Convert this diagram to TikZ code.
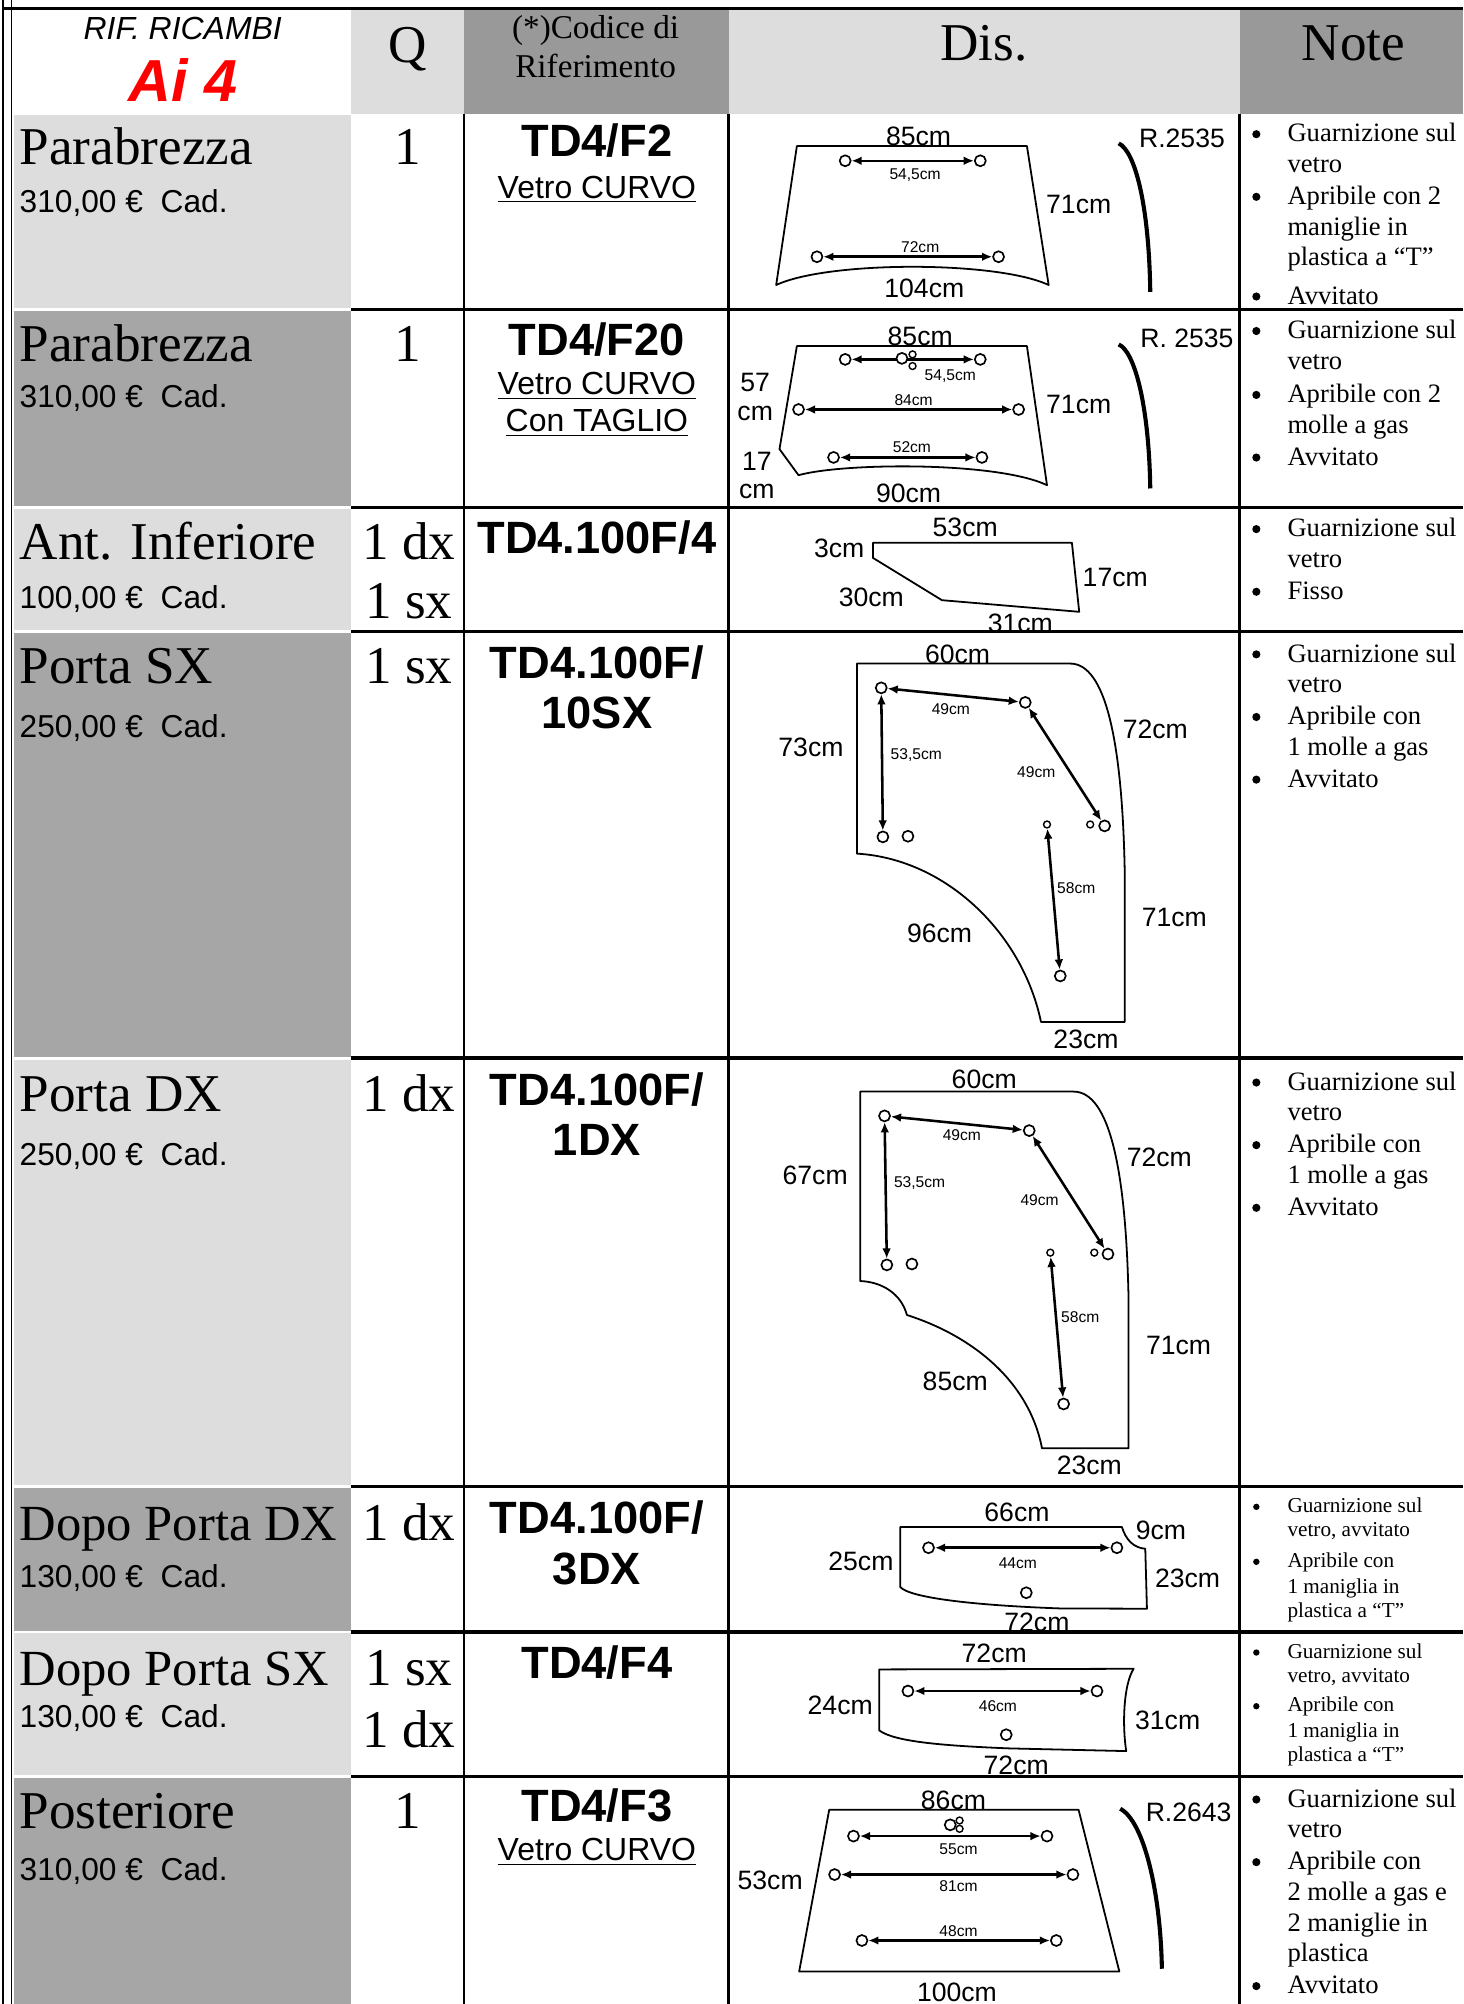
\documentclass[tikz,border=0pt]{standalone}
\usepackage{fontspec}
\setmainfont{Liberation Serif}
\setsansfont{Liberation Sans}
\usetikzlibrary{arrows.meta}
\definecolor{lightcell}{HTML}{DDDDDD}
\definecolor{darkcell}{HTML}{A6A6A6}
\definecolor{headdark}{HTML}{999999}

\begin{document}
\begin{tikzpicture}[x=0.5pt, y=-0.5pt,
    bigtext/.style={font=\fontsize{20.8}{24}\selectfont, inner sep=0pt},
    longtext/.style={font=\fontsize{19.8}{23}\selectfont, inner sep=0pt},
    price/.style={font=\sffamily\fontsize{12.4}{14}\selectfont, inner sep=0pt, anchor=base west},
    codetext/.style={font=\sffamily\bfseries\fontsize{17.7}{20}\selectfont, inner sep=0pt, anchor=base},
    subtext/.style={font=\sffamily\fontsize{12.5}{14}\selectfont, inner sep=0pt, anchor=base},
    dimtext/.style={font=\sffamily\fontsize{10.4}{12}\selectfont, inner sep=0pt},
    dimsmall/.style={font=\sffamily\fontsize{6.1}{7}\selectfont, inner sep=0pt},
    noteline/.style={font=\fontsize{10.4}{12}\selectfont, inner sep=0pt, anchor=base west},
    notesmall/.style={font=\fontsize{8.3}{10}\selectfont, inner sep=0pt, anchor=base west},
    notedot/.style={circle, fill, inner sep=0pt, minimum size=3.2pt},
    notedotsmall/.style={circle, fill, inner sep=0pt, minimum size=2.5pt},
    hole/.style={circle, draw, fill=white, line width=0.65pt, inner sep=0pt, minimum size=4.3pt},
    smallhole/.style={circle, draw, fill=white, line width=0.55pt, inner sep=0pt, minimum size=2.7pt},
    glass/.style={line width=0.7pt, line join=round},
    dimarrow/.style={<->, >={Latex[length=4pt,width=3.4pt]}, line width=1pt},
    curvemark/.style={line width=1.6pt},
    cellline/.style={line width=1pt},
    rowline/.style={line width=1.4pt}]
\useasboundingbox (0,0) rectangle (1145,1568);

\fill[lightcell] (275,8) rectangle (363,89);
\fill[headdark] (363,8) rectangle (570,89);
\fill[lightcell] (570,8) rectangle (970,89);
\fill[headdark] (970,8) rectangle (1145,89);
\fill[lightcell] (11,90) rectangle (275,241);
\fill[darkcell] (11,243) rectangle (275,396);
\fill[lightcell] (11,398) rectangle (275,493);
\fill[darkcell] (11,495) rectangle (275,827);
\fill[lightcell] (11,829) rectangle (275,1162);
\fill[darkcell] (11,1164) rectangle (275,1276);
\fill[lightcell] (11,1278) rectangle (275,1389);
\fill[darkcell] (11,1391) rectangle (275,1568);

\node[font=\sffamily\itshape\fontsize{12.5}{14}\selectfont, inner sep=0pt, anchor=base] (rif) at (143,31) {RIF. RICAMBI};
\node[font=\sffamily\bfseries\itshape\fontsize{23.2}{26}\selectfont, text=red, inner sep=0pt, anchor=base] (model) at (143,79.5) {Ai 4};
\node[bigtext, anchor=base] (qhead) at (319,49) {Q};
\node[font=\fontsize{13}{15}\selectfont, inner sep=0pt, anchor=base] (codhead) at (466,30.5) {(*)Codice di};
\node[font=\fontsize{13}{15}\selectfont, inner sep=0pt, anchor=base] (rifhead) at (466,60.5) {Riferimento};
\node[bigtext, anchor=base] (dishead) at (770,47) {Dis.};
\node[bigtext, anchor=base] (notehead) at (1059,47) {Note};

\node[bigtext, anchor=base west] (part1) at (15,129) {Parabrezza};
\node[price] (cost1) at (15,166) {310,00 €~~Cad.};
\node[bigtext, anchor=base west] (part2) at (15,283) {Parabrezza};
\node[price] (cost2) at (15,319) {310,00 €~~Cad.};
\node[bigtext, anchor=base west] (part3) at (15,438) {Ant. Inferiore};
\node[price] (cost3) at (15,476) {100,00 €~~Cad.};
\node[bigtext, anchor=base west] (part4) at (15,535) {Porta SX};
\node[price] (cost4) at (15,577) {250,00 €~~Cad.};
\node[bigtext, anchor=base west] (part5) at (15,870) {Porta DX};
\node[price] (cost5) at (15,912) {250,00 €~~Cad.};
\node[longtext, anchor=base west] (part6) at (15,1205) {Dopo Porta DX};
\node[price] (cost6) at (15,1242) {130,00 €~~Cad.};
\node[longtext, anchor=base west] (part7) at (15,1319) {Dopo Porta SX};
\node[price] (cost7) at (15,1352) {130,00 €~~Cad.};
\node[bigtext, anchor=base west] (part8) at (15,1431) {Posteriore};
\node[price] (cost8) at (15,1471) {310,00 €~~Cad.};

\node[bigtext, anchor=base] (qty1) at (319,129) {1};
\node[bigtext, anchor=base] (qty2) at (319,283) {1};
\node[bigtext, anchor=base] (qty3) at (320,438) {1 dx};
\node[bigtext, anchor=base] (qty3b) at (320,484) {1 sx};
\node[bigtext, anchor=base] (qty4) at (320,535) {1 sx};
\node[bigtext, anchor=base] (qty5) at (320,870) {1 dx};
\node[bigtext, anchor=base] (qty6) at (320,1205) {1 dx};
\node[bigtext, anchor=base] (qty7) at (320,1319) {1 sx};
\node[bigtext, anchor=base] (qty7b) at (320,1367) {1 dx};
\node[bigtext, anchor=base] (qty8) at (319,1431) {1};

\node[codetext] (code1) at (467,122.6) {TD4/F2};
\node[subtext] (kind1) at (467,155) {\underline{Vetro CURVO}};
\node[codetext] (code2) at (467,278) {TD4/F20};
\node[subtext] (kind2) at (467,309) {\underline{Vetro CURVO}};
\node[subtext] (kind2b) at (467,338) {\underline{Con TAGLIO}};
\node[codetext] (code3) at (467,433) {TD4.100F/4};
\node[codetext] (code4) at (467,531) {TD4.100F/};
\node[codetext] (code4b) at (467,570) {10SX};
\node[codetext] (code5) at (467,865) {TD4.100F/};
\node[codetext] (code5b) at (467,904) {1DX};
\node[codetext] (code6) at (467,1200) {TD4.100F/};
\node[codetext] (code6b) at (467,1240) {3DX};
\node[codetext] (code7) at (467,1313) {TD4/F4};
\node[codetext] (code8) at (467,1425) {TD4/F3};
\node[subtext] (kind8) at (467,1456) {\underline{Vetro CURVO}};

\draw[glass] (623.5,114.3) -- (803.5,114.3) -- (820.5,223)
  .. controls (780,204) and (648,204) .. (607.3,223) -- cycle;
\node[hole] (h1a) at (661.3,125.8) {};
\node[hole] (h1b) at (767,125.8) {};
\node[hole] (h1c) at (639.2,200.9) {};
\node[hole] (h1d) at (781.3,200.9) {};
\draw[dimarrow] (h1a) -- (h1b);
\draw[dimarrow] (h1c) -- (h1d);
\node[dimsmall] (m1a) at (716,137) {54,5cm};
\node[dimsmall] (m1b) at (720,193) {72cm};
\node[dimtext] (s1t) at (718.7,107) {85cm};
\node[dimtext] (s1r) at (844,159.7) {71cm};
\node[dimtext] (s1b) at (723.2,225.6) {104cm};
\node[dimtext] (rad1) at (924.8,108.3) {R.2535};
\draw[curvemark] (875.3,112.2) .. controls (888,118) and (899,160) .. (900,228.3);

\draw[glass] (623.5,270.8) -- (803.5,270.8) -- (819.2,379.6)
  .. controls (780,361) and (660,362) .. (624.8,371.8) -- (609.9,351.4) -- cycle;
\node[hole] (h2a) at (661.3,281.2) {};
\node[hole] (h2b) at (767,281.2) {};
\node[hole] (h2c) at (624.8,320.4) {};
\node[hole] (h2d) at (797,320.4) {};
\node[hole] (h2e) at (652.2,357.9) {};
\node[hole] (h2f) at (768.3,357.9) {};
\draw[dimarrow] (h2a) -- (h2b);
\draw[dimarrow] (h2c) -- (h2d);
\draw[dimarrow] (h2e) -- (h2f);
\node[hole] (h2m) at (705.7,280.4) {};
\node[smallhole] (h2s) at (714,277.3) {};
\node[smallhole] (h2t) at (714,286.4) {};
\node[dimsmall] (m2a) at (743.5,294.3) {54,5cm};
\node[dimsmall] (m2b) at (714.8,313) {84cm};
\node[dimsmall] (m2c) at (713.5,349.6) {52cm};
\node[dimtext] (s2t) at (720,263.5) {85cm};
\node[dimtext] (s2l) at (590.9,299.2) {57};
\node[dimtext] (s2lb) at (590.9,323.5) {cm};
\node[dimtext] (s2c) at (592.2,361.3) {17};
\node[dimtext] (s2cb) at (592.2,384.8) {cm};
\node[dimtext] (s2b) at (710.9,386.1) {90cm};
\node[dimtext] (s2r) at (844,316.4) {71cm};
\node[dimtext] (rad2) at (928.7,264.8) {R. 2535};
\draw[curvemark] (875.3,269.5) .. controls (888,275) and (899,318) .. (900,382.2);

\draw[glass] (683,424.7) -- (838.7,424.7) -- (844.4,478.7) -- (737,469.6) -- (683,436.5) -- cycle;
\node[dimtext] (s3t) at (755.2,413) {53cm};
\node[dimtext] (s3l) at (656.6,429.1) {3cm};
\node[dimtext] (s3r) at (872.6,452.1) {17cm};
\node[dimtext] (s3d) at (681.7,467) {30cm};
\node[dimtext] (s3b) at (798.3,487.8) {31cm};

\draw[glass] (670.5,519.2) -- (837.4,519.2) .. controls (865,519.2) and (878,580) .. (880,680.9)
  -- (880,799.6) -- (814.5,799.6) .. controls (800,730) and (740,672) .. (670.5,667.9) -- cycle;
\node[hole] (h4a) at (689.5,538.2) {};
\node[hole] (h4b) at (802.2,549.6) {};
\node[hole] (h4c) at (690.8,654.8) {};
\node[hole] (h4d) at (710.4,654.3) {};
\node[hole] (h4e) at (864.3,646.2) {};
\node[smallhole] (h4s) at (853,645.1) {};
\node[smallhole] (h4f) at (819.2,645.1) {};
\node[hole] (h4g) at (829.6,763.6) {};
\draw[dimarrow] (h4a) -- (h4b);
\draw[dimarrow] (h4a) -- (h4c);
\draw[dimarrow] (h4b) -- (h4e);
\draw[dimarrow] (h4f) -- (h4g);
\node[dimsmall] (m4a) at (744,554.9) {49cm};
\node[dimsmall] (m4b) at (716.9,590.9) {53,5cm};
\node[dimsmall] (m4c) at (810.8,603.9) {49cm};
\node[dimsmall] (m4d) at (842.1,695.2) {58cm};
\node[dimtext] (s4t) at (749.2,511.8) {60cm};
\node[dimtext] (s4l) at (634.5,584.9) {73cm};
\node[dimtext] (s4r) at (904,570.8) {72cm};
\node[dimtext] (s4rb) at (918.8,717.9) {71cm};
\node[dimtext] (s4c) at (735.1,730.4) {96cm};
\node[dimtext] (s4b) at (849.7,813.4) {23cm};

\draw[glass] (673,854.1) -- (840,854.1) .. controls (868,854.1) and (881,915) .. (883,1015.8)
  -- (883,1133.2) -- (815.3,1133.2) .. controls (805,1080) and (760,1045) .. (709.6,1028.9)
  .. controls (705,1012) and (690,1003) .. (673,1002.3) -- cycle;
\node[hole] (h5a) at (692.1,873.1) {};
\node[hole] (h5b) at (805.3,884.6) {};
\node[hole] (h5c) at (693.9,989.7) {};
\node[hole] (h5d) at (713.5,989) {};
\node[hole] (h5e) at (866.9,981.2) {};
\node[smallhole] (h5s) at (856.2,980.1) {};
\node[smallhole] (h5f) at (821.8,980.1) {};
\node[hole] (h5g) at (832.2,1098.5) {};
\draw[dimarrow] (h5a) -- (h5b);
\draw[dimarrow] (h5a) -- (h5c);
\draw[dimarrow] (h5b) -- (h5e);
\draw[dimarrow] (h5f) -- (h5g);
\node[dimsmall] (m5a) at (752.6,888) {49cm};
\node[dimsmall] (m5b) at (719.5,925.8) {53,5cm};
\node[dimsmall] (m5c) at (813.4,938.9) {49cm};
\node[dimsmall] (m5d) at (845.2,1030.2) {58cm};
\node[dimtext] (s5t) at (770.1,844.2) {60cm};
\node[dimtext] (s5l) at (637.8,919.8) {67cm};
\node[dimtext] (s5r) at (907.1,905.7) {72cm};
\node[dimtext] (s5rb) at (922.2,1052.9) {71cm};
\node[dimtext] (s5c) at (747.4,1080.5) {85cm};
\node[dimtext] (s5b) at (852.3,1146.3) {23cm};

\draw[glass] (704.4,1194.8) -- (877.8,1194.8) .. controls (881,1205) and (887,1211) .. (896.1,1211.8)
  -- (897.4,1258.7) -- (830,1258.5) .. controls (760,1256) and (712,1250) .. (704.4,1241.8) -- cycle;
\node[hole] (h6a) at (726.5,1211) {};
\node[hole] (h6b) at (873.9,1211) {};
\node[hole] (h6c) at (803,1246.2) {};
\draw[dimarrow] (h6a) -- (h6b);
\node[dimsmall] (m6a) at (796.4,1223) {44cm};
\node[dimtext] (s6t) at (795.7,1183) {66cm};
\node[dimtext] (s6n) at (908.4,1197.4) {9cm};
\node[dimtext] (s6l) at (673.6,1221.7) {25cm};
\node[dimtext] (s6r) at (929.2,1234.7) {23cm};
\node[dimtext] (s6b) at (811.3,1269.2) {72cm};

\draw[glass] (687.9,1306.2) -- (887,1305.7) .. controls (879,1318) and (878,1350) .. (881.2,1370.1)
  -- (790,1368) .. controls (740,1366) and (700,1363) .. (687.9,1353.9) -- cycle;
\node[hole] (h7a) at (710.4,1323.1) {};
\node[hole] (h7b) at (858.3,1323.1) {};
\node[hole] (h7c) at (787.3,1357.3) {};
\draw[dimarrow] (h7a) -- (h7b);
\node[dimsmall] (m7a) at (780.8,1335.1) {46cm};
\node[dimtext] (s7t) at (777.9,1293.4) {72cm};
\node[dimtext] (s7l) at (657.4,1334.4) {24cm};
\node[dimtext] (s7r) at (913.6,1346.1) {31cm};
\node[dimtext] (s7b) at (795.1,1381.3) {72cm};

\draw[glass] (648.8,1416) -- (843.9,1416) -- (875.8,1542.5) -- (625.3,1542.5) -- cycle;
\node[hole] (h8a) at (667.8,1436.6) {};
\node[hole] (h8b) at (819.2,1436.6) {};
\node[hole] (h8c) at (653,1466.7) {};
\node[hole] (h8d) at (839.5,1466.7) {};
\node[hole] (h8e) at (674.4,1518.3) {};
\node[hole] (h8f) at (826.5,1518.3) {};
\draw[dimarrow] (h8a) -- (h8b);
\draw[dimarrow] (h8c) -- (h8d);
\draw[dimarrow] (h8e) -- (h8f);
\node[hole] (h8m) at (743.5,1427.8) {};
\node[smallhole] (h8s) at (750.8,1424.4) {};
\node[smallhole] (h8t) at (750.8,1430.9) {};
\node[dimsmall] (m8a) at (750,1446.5) {55cm};
\node[dimsmall] (m8b) at (750,1476) {81cm};
\node[dimsmall] (m8c) at (750,1511.2) {48cm};
\node[dimtext] (s8t) at (746,1408.7) {86cm};
\node[dimtext] (s8l) at (602.6,1471.3) {53cm};
\node[dimtext] (s8b) at (748.7,1558.7) {100cm};
\node[dimtext] (rad8) at (930,1417.8) {R.2643};
\draw[curvemark] (876.5,1415.2) .. controls (895,1425) and (908,1480) .. (909.1,1540.4);

\foreach \y/\t [count=\i] in {111/Guarnizione sul, 135/vetro, 160/Apribile con 2, 184/maniglie in, 208/plastica a “T”, 238/Avvitato}
  \node[noteline] (na\i) at (1007,\y) {\t};
\foreach \y [count=\i] in {105,154,232} \node[notedot] (da\i) at (983,\y) {};
\foreach \y/\t [count=\i] in {265/Guarnizione sul, 289/vetro, 315/Apribile con 2, 339/molle a gas, 364/Avvitato}
  \node[noteline] (nb\i) at (1007,\y) {\t};
\foreach \y [count=\i] in {259,309,358} \node[notedot] (db\i) at (983,\y) {};
\foreach \y/\t [count=\i] in {420/Guarnizione sul, 444/vetro, 469/Fisso}
  \node[noteline] (nc\i) at (1007,\y) {\t};
\foreach \y [count=\i] in {414,463} \node[notedot] (dc\i) at (983,\y) {};
\foreach \y/\t [count=\i] in {518/Guarnizione sul, 542/vetro, 567/Apribile con, 591/1 molle a gas, 616/Avvitato}
  \node[noteline] (nd\i) at (1007,\y) {\t};
\foreach \y [count=\i] in {512,561,610} \node[notedot] (dd\i) at (983,\y) {};
\foreach \y/\t [count=\i] in {853/Guarnizione sul, 877/vetro, 902/Apribile con, 926/1 molle a gas, 951/Avvitato}
  \node[noteline] (ne\i) at (1007,\y) {\t};
\foreach \y [count=\i] in {847,896,945} \node[notedot] (de\i) at (983,\y) {};
\foreach \y/\t [count=\i] in {1183.5/Guarnizione sul, 1202.5/{vetro, avvitato}, 1226.5/Apribile con, 1246.5/1 maniglia in, 1265.5/plastica a “T”}
  \node[notesmall] (nf\i) at (1007,\y) {\t};
\foreach \y [count=\i] in {1179,1222} \node[notedotsmall] (df\i) at (983,\y) {};
\foreach \y/\t [count=\i] in {1297.5/Guarnizione sul, 1316.5/{vetro, avvitato}, 1339.5/Apribile con, 1359.5/1 maniglia in, 1378.5/plastica a “T”}
  \node[notesmall] (ng\i) at (1007,\y) {\t};
\foreach \y [count=\i] in {1293,1335} \node[notedotsmall] (dg\i) at (983,\y) {};
\foreach \y/\t [count=\i] in {1414/Guarnizione sul, 1438/vetro, 1463/Apribile con, 1487/2 molle a gas e, 1511/2 maniglie in, 1535/plastica, 1560/Avvitato}
  \node[noteline] (nh\i) at (1007,\y) {\t};
\foreach \y [count=\i] in {1408,1457,1554} \node[notedot] (dh\i) at (983,\y) {};

\draw[line width=0.7pt] (2.5,0) -- (2.5,1568);
\draw[line width=0.7pt] (9,0) -- (9,1568);
\draw[rowline] (2.5,6.5) -- (1145,6.5);
\foreach \x in {363,570,970} \draw[cellline] (\x,89) -- (\x,1568);
\foreach \y in {242,397,494,828,1163,1277,1390} \draw[rowline] (275,\y) -- (1145,\y);
\end{tikzpicture}
\end{document}
